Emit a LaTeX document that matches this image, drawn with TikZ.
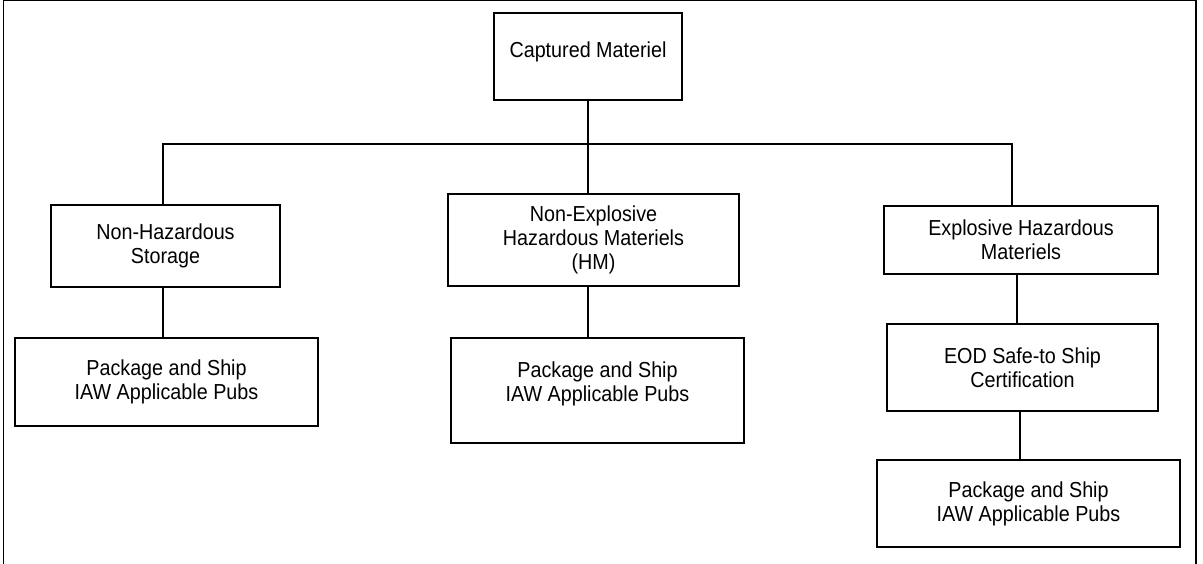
\documentclass[tikz,border=0pt]{standalone}
\usepackage{fontspec}
\setmainfont{Liberation Sans}[FakeStretch=0.91]
\usetikzlibrary{positioning}

\tikzset{
    box/.style={draw, line width=1.2pt, inner sep=0pt, outer sep=0pt, align=center,
        font=\fontsize{21.7}{24}\selectfont},
    link/.style={line width=1.2pt}
}

\begin{document}
\begin{tikzpicture}[x=1pt, y=-1pt]

    \useasboundingbox (0,0) rectangle (1203,564);
    \draw[link] (3.5,564) -- (3.5,0.8) -- (1196,0.8) -- (1196,564);

    \draw(588,56.5) node[box, minimum width=188pt, minimum height=87pt] (cm) {Captured Materiel\\[-10pt]\mbox{}};

    \draw(165.5,246) node[box, minimum width=229pt, minimum height=82pt] (nhs) {Non-Hazardous\\Storage};
    \draw(593.5,240) node[box, minimum width=291pt, minimum height=92pt] (nhm) {\mbox{}\\[-8pt]Non-Explosive\\Hazardous Materiels\\(HM)};
    \draw(1021,240) node[box, minimum width=274pt, minimum height=68pt] (ehm) {Explosive Hazardous\\Materiels};

    \draw(166.5,382) node[box, minimum width=303pt, minimum height=88pt] (pk1) {Package and Ship\\IAW Applicable Pubs};
    \draw(597.5,390.5) node[box, minimum width=293pt, minimum height=105pt] (pk2) {Package and Ship\\IAW Applicable Pubs\\[-6pt]\mbox{}};
    \draw(1022.5,367.5) node[box, minimum width=271pt, minimum height=87pt] (eod) {EOD Safe-to Ship\\Certification};
    \draw(1028.5,503.5) node[box, minimum width=303pt, minimum height=87pt] (pk3) {Package and Ship\\IAW Applicable Pubs};

    \coordinate (busL) at (163,144);
    \coordinate (busR) at (1012,144);
    \coordinate (e1) at (1017,274);
    \coordinate (e2) at (1020,411);

    \draw[link] (cm.south) to (cm.south |- nhm.north);
    \draw[link] (nhs.north -| busL) -- (busL) -- (busR) -- (ehm.north -| busR);
    \draw[link] (nhs.south -| busL) to (pk1.north -| busL);
    \draw[link] (cm.south |- nhm.south) to (cm.south |- pk2.north);
    \draw[link] (ehm.south -| e1) to (eod.north -| e1);
    \draw[link] (eod.south -| e2) to (pk3.north -| e2);

\end{tikzpicture}
\end{document}
